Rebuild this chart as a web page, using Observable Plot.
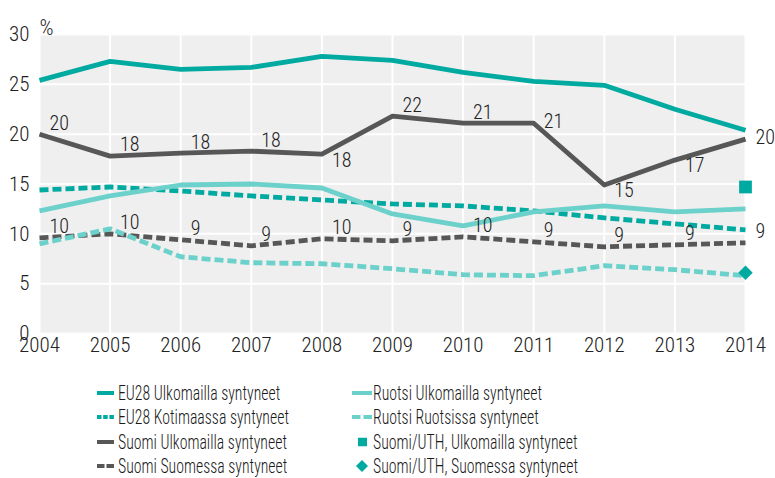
<!DOCTYPE html>
<html><head><meta charset="utf-8">
<script src="https://cdn.jsdelivr.net/npm/d3@7"></script>
<script src="https://cdn.jsdelivr.net/npm/@observablehq/plot@0.6"></script>
<style>
body{margin:0;background:#fff;font-family:"Roboto Condensed","DejaVu Sans Condensed",sans-serif;font-weight:300;color:#1a1a1a}
#wrap{position:relative;width:775px;height:478px;overflow:hidden}
#legend{position:absolute;left:0;top:365px;width:775px;height:113px}
.sw{position:absolute;transform:translateY(-50%);line-height:0}
.lab{position:absolute;transform:translateY(-50%) scaleX(0.77);transform-origin:left center;font-size:20.5px;white-space:nowrap;line-height:24px}
svg text{font-weight:300}
</style></head><body><div id="wrap"><div id="chart"></div><div id="legend"></div></div>
<script>
const years = [2004,2005,2006,2007,2008,2009,2010,2011,2012,2013,2014];
const eu28Ulkomailla = [25.4,27.3,26.5,26.7,27.8,27.4,26.2,25.3,24.9,22.5,20.4];
const eu28Kotimaassa = [14.4,14.7,14.3,13.8,13.4,13.0,12.8,12.3,11.6,11.0,10.4];
const suomiUlkomailla = [20.0,17.8,18.1,18.3,18.0,21.8,21.1,21.1,14.9,17.4,19.5];
const suomiSuomessa = [9.6,10.0,9.4,8.8,9.5,9.3,9.7,9.2,8.7,8.9,9.1];
const ruotsiUlkomailla = [12.3,13.8,14.9,15.0,14.6,12.0,10.8,12.2,12.8,12.2,12.5];
const ruotsiRuotsissa = [9.0,10.5,7.7,7.1,7.0,6.5,5.9,5.8,6.8,6.4,5.8];
const uthYear = 2014;
const uthUlkomailla = 14.7;
const uthSuomessa = 6.1;
const suomiUlkomaillaLabels = ["20","18","18","18","18","22","21","21","15","17","20"];
const suomiUlkomaillaLabelPlace = ["above","above","above","above","below","above","above","right","below","below","right"];
const suomiSuomessaLabels = ["10","10","9","9","10","9","10","9","9","9","9"];
const yTicks = [0,5,10,15,20,25,30];
const seriesNames = ["EU28 Ulkomailla syntyneet","EU28 Kotimaassa syntyneet","Suomi Ulkomailla syntyneet","Suomi Suomessa syntyneet","Ruotsi Ulkomailla syntyneet","Ruotsi Ruotsissa syntyneet"];
const markerNames = ["Suomi/UTH, Ulkomailla syntyneet","Suomi/UTH, Suomessa syntyneet"];

const TEAL = "#00aaa0", LIGHT = "#6bd1ca", GRAY = "#575757";
const series = [
  {name: seriesNames[0], values: eu28Ulkomailla, color: TEAL, dash: null},
  {name: seriesNames[1], values: eu28Kotimaassa, color: TEAL, dash: "9,4"},
  {name: seriesNames[2], values: suomiUlkomailla, color: GRAY, dash: null},
  {name: seriesNames[3], values: suomiSuomessa, color: GRAY, dash: "9,4"},
  {name: seriesNames[4], values: ruotsiUlkomailla, color: LIGHT, dash: null},
  {name: seriesNames[5], values: ruotsiRuotsissa, color: LIGHT, dash: "9,4"}
];
const rows = s => years.map((x, i) => ({x, y: s.values[i]}));
const suomiUlkRows = years.map((x, i) => ({x, y: suomiUlkomailla[i], label: suomiUlkomaillaLabels[i], place: suomiUlkomaillaLabelPlace[i]}));
const suomiSuoRows = years.map((x, i) => ({x, y: suomiSuomessa[i], label: suomiSuomessaLabels[i]}));
const placeDy = {above: -11, below: 6, right: -2};

const labelMarks = Object.keys(placeDy).map(p =>
  Plot.text(suomiUlkRows.filter(d => d.place === p), {x: "x", y: "y", text: "label", dx: 10, dy: placeDy[p], textAnchor: "start", fill: "#222", fontSize: 20}));

const chart = Plot.plot({
  width: 775, height: 365,
  marginLeft: 39, marginRight: 30, marginTop: 34, marginBottom: 32,
  x: {domain: [2004, 2014]},
  y: {domain: [0, 30]},
  style: {fontFamily: '"Roboto Condensed","DejaVu Sans Condensed",sans-serif', fontSize: "20px", color: "#222", background: "white"},
  marks: [
    Plot.frame({fill: "#efefef", stroke: "none"}),
    Plot.ruleY(yTicks, {y: d => d, stroke: "white", strokeWidth: 2}),
    Plot.ruleX(years, {x: d => d, stroke: "white", strokeWidth: 2}),
    ...series.map(s => Plot.line(rows(s), {x: "x", y: "y", stroke: s.color, strokeWidth: 4.8, strokeDasharray: s.dash || undefined, strokeLinecap: "butt", strokeLinejoin: "round"})),
    Plot.dot([{x: uthYear, y: uthUlkomailla}], {x: "x", y: "y", symbol: "square", fill: TEAL, r: 7.2}),
    Plot.dot([{x: uthYear, y: uthSuomessa}], {x: "x", y: "y", symbol: "diamond2", fill: TEAL, r: 6.5}),
    ...labelMarks,
    Plot.text(suomiSuoRows, {x: "x", y: "y", text: "label", dx: 10, dy: -11, textAnchor: "start", fill: "#222", fontSize: 20}),
    Plot.text(["%"], {frameAnchor: "top-left", dx: 0, dy: -15, textAnchor: "start", fill: "#222", fontSize: 22}),
    Plot.axisY(yTicks, {tickSize: 0, tickPadding: 10, label: null, fontSize: 21}),
    Plot.axisX(years, {tickSize: 0, tickPadding: 4, tickFormat: "d", label: null, fontSize: 21})
  ]
});
document.getElementById("chart").append(chart);

// Legend
const legend = document.getElementById("legend");
const rowY = [28, 52, 77, 101];
function swatchLine(color, dash, w) {
  return `<svg width="${w}" height="6"><line x1="0" x2="${w}" y1="3" y2="3" stroke="${color}" stroke-width="4" ${dash ? `stroke-dasharray="${dash}"` : ""}/></svg>`;
}
const legendSpec = [
  {name: seriesNames[0], sw: swatchLine(TEAL, null, 17), swLeft: 97, textLeft: 118},
  {name: seriesNames[1], sw: swatchLine(TEAL, "4.5,1.7", 17), swLeft: 97, textLeft: 118},
  {name: seriesNames[2], sw: swatchLine(GRAY, null, 17), swLeft: 97, textLeft: 118},
  {name: seriesNames[3], sw: swatchLine(GRAY, "7.5,2", 17), swLeft: 97, textLeft: 118},
  {name: seriesNames[4], sw: swatchLine(LIGHT, null, 20), swLeft: 352, textLeft: 373},
  {name: seriesNames[5], sw: swatchLine(LIGHT, "8.5,3", 20), swLeft: 352, textLeft: 373},
  {name: markerNames[0], sw: `<svg width="9" height="9"><rect x="0" y="0" width="9" height="9" fill="${TEAL}"/></svg>`, swLeft: 358, textLeft: 373},
  {name: markerNames[1], sw: `<svg width="12" height="12"><path d="M6,0 L12,6 L6,12 L0,6 Z" fill="${TEAL}"/></svg>`, swLeft: 356, textLeft: 373}
];
legendSpec.forEach((d, i) => {
  const sw = document.createElement("div");
  sw.className = "sw";
  sw.style.left = d.swLeft + "px";
  sw.style.top = rowY[i % 4] + "px";
  sw.innerHTML = d.sw;
  legend.append(sw);
  const lab = document.createElement("div");
  lab.className = "lab";
  lab.style.left = d.textLeft + "px";
  lab.style.top = rowY[i % 4] + "px";
  lab.textContent = d.name;
  legend.append(lab);
});
</script></body></html>
